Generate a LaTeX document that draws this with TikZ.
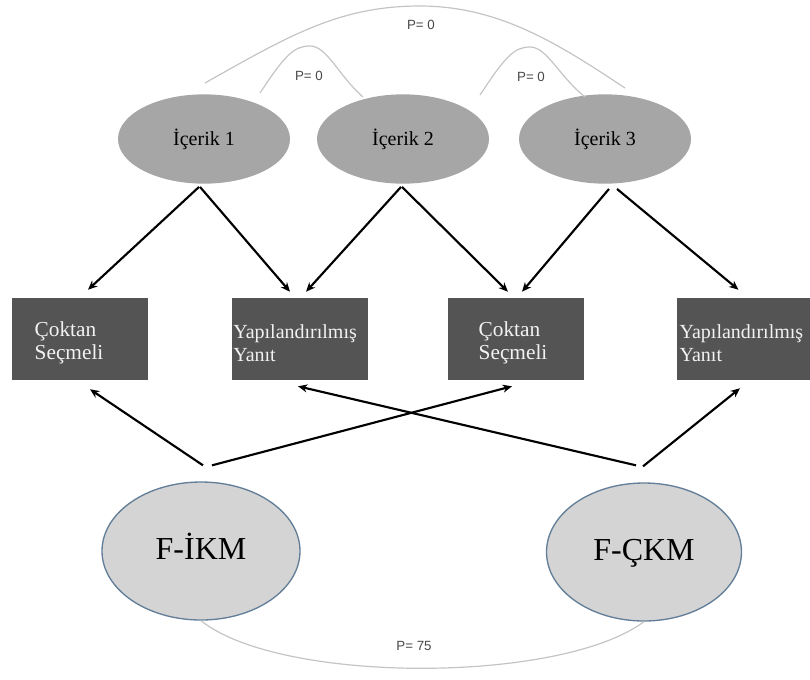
\documentclass[tikz,border=0pt]{standalone}
\usepackage{fontspec}
\setmainfont{Liberation Serif}
\newfontfamily\plabelfont{Liberation Sans}
\usetikzlibrary{arrows.meta,calc,shapes.geometric}
\definecolor{boxgray}{HTML}{545454}
\definecolor{midgray}{HTML}{A6A6A6}
\definecolor{lightfill}{HTML}{D4D4D4}
\definecolor{bordercol}{HTML}{627E98}
\definecolor{linkgray}{HTML}{C4C4C4}
\definecolor{labgray}{HTML}{484848}
\definecolor{boxtext}{HTML}{F2F2F2}
\begin{document}
\begin{tikzpicture}[x=0.75pt,y=-0.75pt,
  content/.style={ellipse, fill=midgray, minimum width=129pt, minimum height=67pt, inner sep=0pt, font=\fontsize{15}{17}\selectfont},
  itembox/.style={rectangle, fill=boxgray, text=boxtext, minimum height=61.5pt, align=left, inner ysep=0pt},
  cmfont/.style={font=\fontsize{16}{17.25}\selectfont},
  yrfont/.style={font=\fontsize{15}{17.25}\selectfont},
  formbox/.style={ellipse, fill=lightfill, draw=bordercol, line width=1pt, minimum width=148.5pt, minimum height=103.5pt, inner sep=0pt, text height=17pt, text depth=5pt, font=\fontsize{24}{28}\selectfont},
  arr/.style={-{Stealth[length=7pt,width=6pt]}, line width=1.6pt, black},
  plink/.style={draw=linkgray, line width=0.9pt},
  plab/.style={font=\plabelfont\fontsize{10}{12}\selectfont, text=labgray, inner sep=0pt}]
\useasboundingbox (0,0) rectangle (810,679);

% content ellipses
\node[content] (i1) at (204,139) {İçerik 1};
\node[content] (i2) at (403,139) {İçerik 2};
\node[content] (i3) at (605,139) {İçerik 3};

% item boxes
\node[itembox, cmfont, inner xsep=17pt, text width=68pt] (b1) at (80,339) {\rule{0pt}{17pt}Çoktan\\Seçmeli};
\node[itembox, yrfont, inner xsep=1pt, text width=100pt] (b2) at (300,339) {\rule{0pt}{17pt}Yapılandırılmış\\Yanıt};
\node[itembox, cmfont, inner xsep=23pt, text width=56pt] (b3) at (516,339) {\rule{0pt}{17pt}Çoktan\\Seçmeli};
\node[itembox, yrfont, inner xsep=2pt, text width=95.75pt] (b4) at (743.5,339) {\rule{0pt}{17pt}Yapılandırılmış\\Yanıt};

% form ellipses
\node[formbox] (f1) at (201,551) {F-İKM};
\node[formbox, minimum width=146.25pt] (f2) at (644,552) {F-ÇKM};

% arrows from contents to items
\draw[arr] ($(i1.south)+(-5,3)$) -- ($(b1.north)+(8,-8)$);
\draw[arr] ($(i1.south)+(-4,3)$) -- ($(b2.north)+(-10,-6)$);
\draw[arr] ($(i2.south)+(-2,3)$) -- ($(b2.north)+(6,-6)$);
\draw[arr] ($(i2.south)+(-1,3)$) -- ($(b3.north)+(-8,-6)$);
\draw[arr] ($(i3.south)+(4,5)$) -- ($(b3.north)+(6,-6)$);
\draw[arr] ($(i3.south)+(12,5)$) -- ($(b4.north)+(-5,-8)$);

% arrows from forms to items
\draw[arr] ($(f1.north)+(2,-16)$) -- ($(b1.south)+(10,9)$);
\draw[arr] ($(f1.north)+(11,-16)$) -- ($(b3.south)+(-4,6)$);
\draw[arr] ($(f2.north)+(-8,-17)$) -- ($(b2.south)+(-2,6)$);
\draw[arr] ($(f2.north)+(-1,-16)$) -- ($(b4.south)+(-3.5,8)$);

% P links between contents
\coordinate (ta) at (205,83);
\coordinate (tb) at (625,88);
\coordinate (sa) at (260,93);
\coordinate (sb) at (363,97);
\coordinate (sc) at (480,95);
\coordinate (sd) at (585,97);
\draw[plink] (ta) .. controls (290,35) and (340,6) .. (420,6) .. controls (500,6) and (560,45) .. (tb);
\draw[plink] (sa) .. controls (285,55) and (294,46) .. (310,46) .. controls (327,46) and (338,75) .. (sb);
\draw[plink] (sc) .. controls (505,57) and (514,47) .. (530,47) .. controls (547,47) and (558,75) .. (sd);
\node[plab] (p1) at (421,25) {P= 0};
\node[plab] (p2) at (309,76) {P= 0};
\node[plab] (p3) at (531,77) {P= 0};

% P link between forms
\draw[plink] (f1.south) .. controls (280,684) and (560,684) .. (f2.south);
\node[plab] (p4) at (414,646) {P= 75};
\end{tikzpicture}
\end{document}
